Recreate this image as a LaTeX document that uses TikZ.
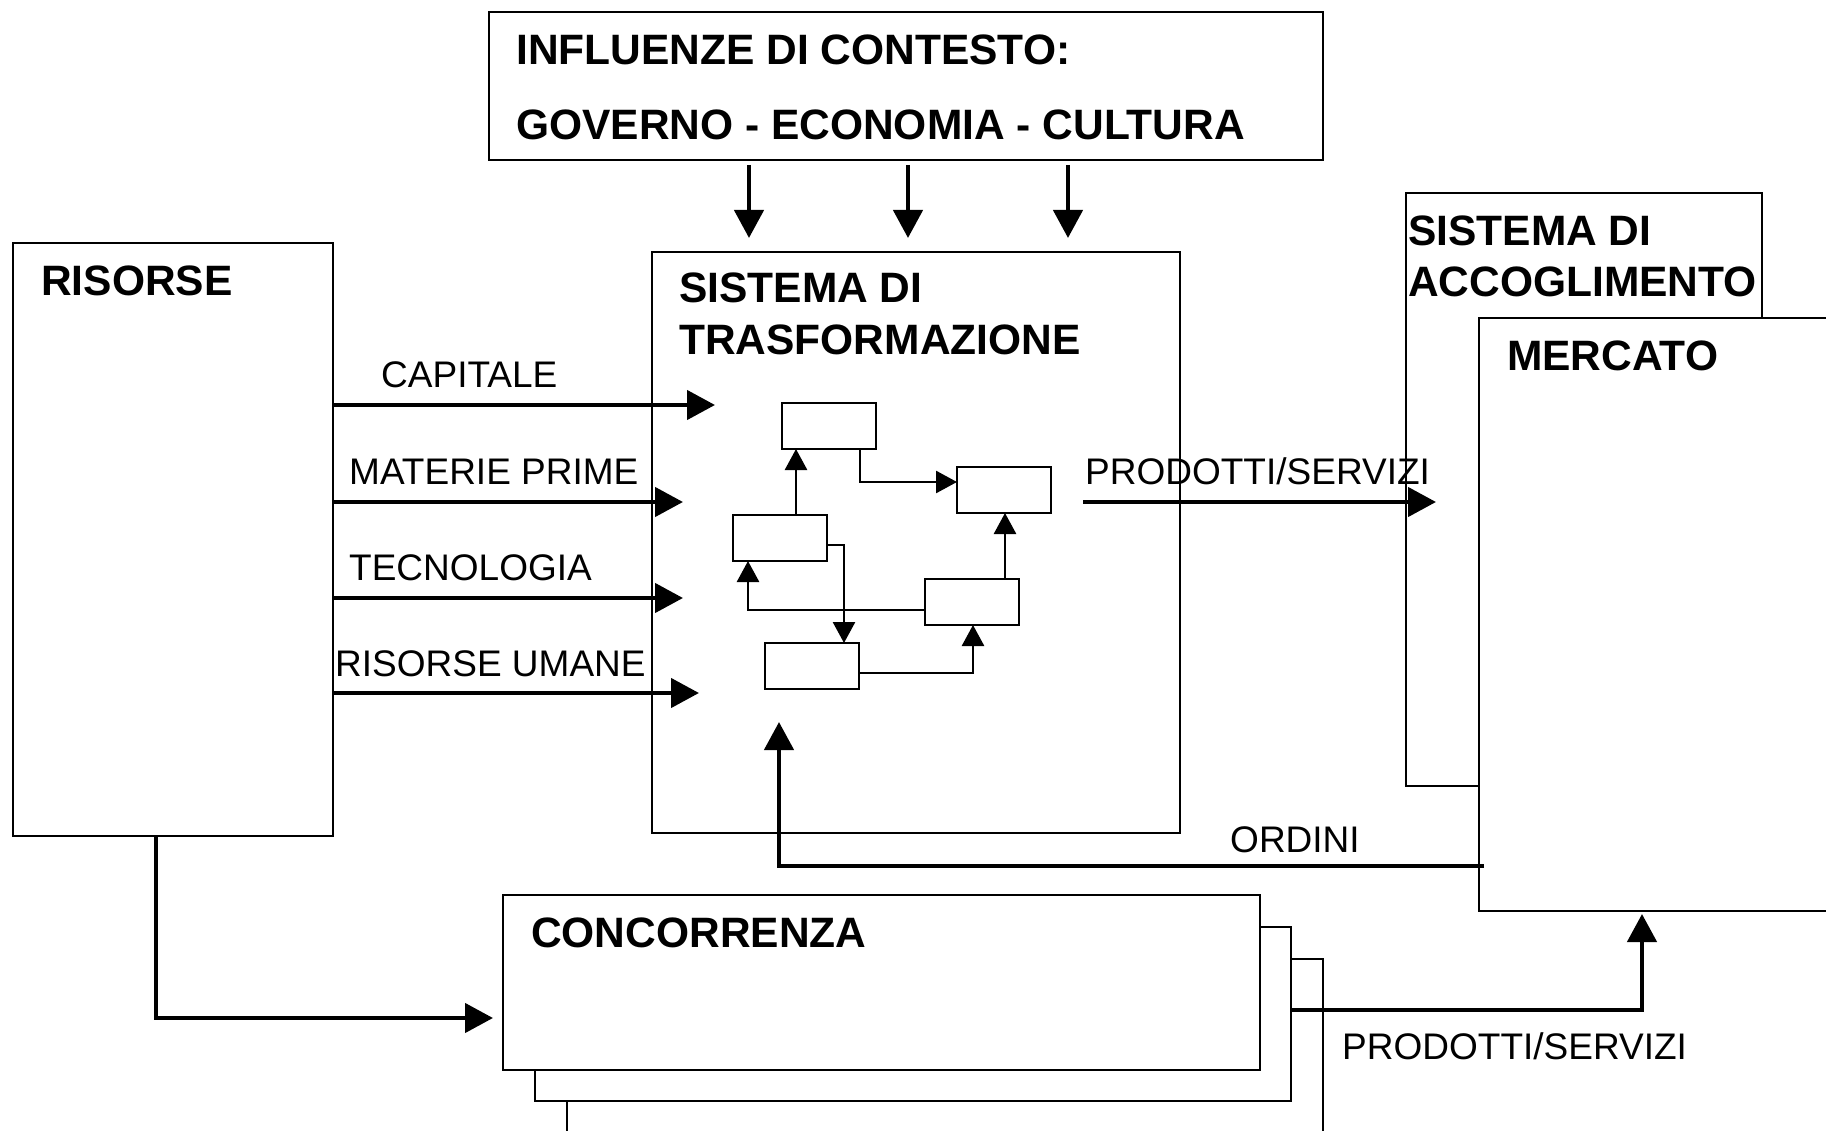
\documentclass[tikz,border=0pt]{standalone}
\usepackage{fontspec}
\setmainfont{Liberation Sans}
\usetikzlibrary{arrows.meta}
\begin{document}
\begin{tikzpicture}[x=1pt,y=-1pt,
  box/.style={draw, line width=2.5pt, fill=white, inner sep=0pt, outer sep=0pt},
  sbox/.style={draw, line width=2.7pt, fill=white, inner sep=0pt, outer sep=0pt,
    minimum width=94pt, minimum height=46pt, anchor=north west},
  barr/.style={line width=4.5pt, -{Triangle[length=28pt,width=29pt]}},
  sarr/.style={line width=2.7pt, -{Triangle[length=21pt,width=22pt]}},
  title/.style={anchor=base west, inner sep=0pt, font=\fontsize{42.5}{50}\selectfont\bfseries},
  lbl/.style={anchor=base west, inner sep=0pt, font=\fontsize{37}{44}\selectfont}]
\clip (0,0) rectangle (1826,1131);
\fill[white] (0,0) rectangle (1826,1131);
% rectangle node from (x1,y1) to (x2,y2)
\newcommand\rbox[5]{\node[box, anchor=north west, minimum width={(#4)-(#2)}, minimum height={(#5)-(#3)}] (#1) at (#2,#3) {};}

% main blocks
\rbox{infl}{489}{12}{1323}{160}
\rbox{risorse}{13}{243}{333}{836}
\rbox{trasf}{652}{252}{1180}{833}
\rbox{accog}{1406}{193}{1762}{786}
\rbox{mercato}{1479}{318}{1870}{911}
\rbox{concC}{567}{959}{1323}{1170}
\rbox{concB}{535}{927}{1291}{1101}
\rbox{concA}{503}{895}{1260}{1070}

% titles
\node[title] (tInfl1) at (516,65) {INFLUENZE DI CONTESTO:};
\node[title] (tInfl2) at (516,140) {GOVERNO - ECONOMIA - CULTURA};
\node[title] (tRis) at (41,296) {RISORSE};
\node[title] (tTr1) at (679,303) {SISTEMA DI};
\node[title] (tTr2) at (679,355) {TRASFORMAZIONE};
\node[title] (tAc1) at (1408,246) {SISTEMA DI};
\node[title] (tAc2) at (1408,297) {ACCOGLIMENTO};
\node[title] (tMer) at (1507,371) {MERCATO};
\node[title] (tCon) at (531,947) {CONCORRENZA};

% context influences
\coordinate (d1) at (749,238);
\coordinate (d2) at (908,238);
\coordinate (d3) at (1068,238);
\draw[barr, shorten <=5pt] (infl.south -| d1) -- (d1);
\draw[barr, shorten <=5pt] (infl.south -| d2) -- (d2);
\draw[barr, shorten <=5pt] (infl.south -| d3) -- (d3);

% resource inputs
\coordinate (capT) at (715,405);
\coordinate (matT) at (683,502);
\coordinate (tecT) at (683,598);
\coordinate (umT) at (699,693);
\draw[barr] (risorse.east |- capT) -- (capT);
\draw[barr] (risorse.east |- matT) -- (matT);
\draw[barr] (risorse.east |- tecT) -- (tecT);
\draw[barr] (risorse.east |- umT) -- (umT);
\node[lbl] (lCap) at (381,388) {CAPITALE};
\node[lbl] (lMat) at (349,484) {MATERIE PRIME};
\node[lbl] (lTec) at (349,580) {TECNOLOGIA};
\node[lbl] (lUm) at (335,676) {RISORSE UMANE};

% internal process blocks
\node[sbox] (b1) at (782,403) {};
\node[sbox] (b2) at (957,467) {};
\node[sbox] (b3) at (733,515) {};
\node[sbox] (b4) at (925,579) {};
\node[sbox] (b5) at (765,643) {};
\coordinate (xa) at (796,0);
\coordinate (xb) at (860,482);
\coordinate (xc) at (844,545);
\coordinate (xd) at (748,610);
\coordinate (xe) at (973,673);
\coordinate (xf) at (1005,0);
\draw[sarr] (b3.north -| xa) -- (b1.south -| xa);
\draw[sarr] (b1.south -| xb) |- (b2.west |- xb);
\draw[sarr] (b3.east |- xc) -| (b5.north -| xc);
\draw[sarr] (b4.west |- xd) -| (b3.south -| xd);
\draw[sarr] (b5.east |- xe) -| (b4.south -| xe);
\draw[sarr] (b4.north -| xf) -- (b2.south -| xf);

% output to the market
\coordinate (outS) at (1083,502);
\coordinate (outT) at (1436,502);
\draw[barr] (outS) -- (outT);
\node[lbl] (lOut) at (1085,484) {PRODOTTI/SERVIZI};

% orders back from the market
\coordinate (ordS) at (1484,866);
\coordinate (ordT) at (779,722);
\draw[barr] (ordS) -| (ordT);
\node[lbl] (lOrd) at (1230,852) {ORDINI};

% resources to competitors
\coordinate (rcx) at (156,0);
\coordinate (concT) at (493,1018);
\draw[barr] (risorse.south -| rcx) |- (concT);

% competitors to the market
\coordinate (py) at (0,1010);
\coordinate (mkT) at (1642,914);
\draw[barr] (concB.east |- py) -| (mkT);
\node[lbl] (lOut2) at (1342,1059) {PRODOTTI/SERVIZI};
\end{tikzpicture}
\end{document}
